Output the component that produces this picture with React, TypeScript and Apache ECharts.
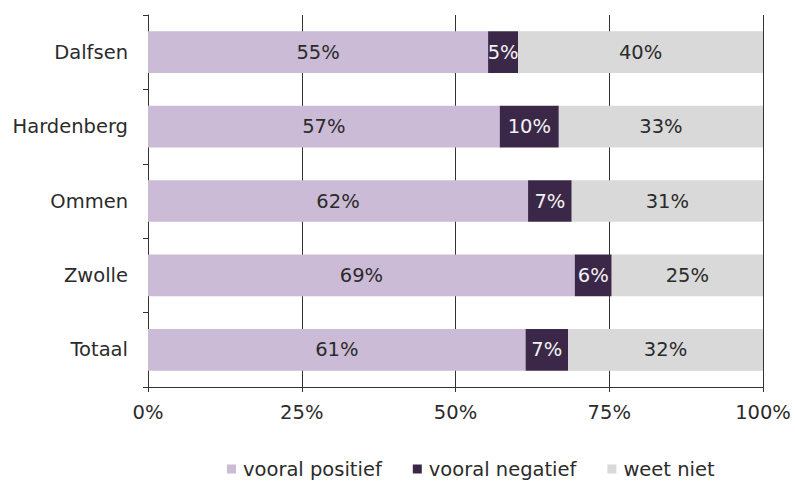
import React, { useEffect, useRef } from "react";
import * as echarts from "echarts";

const categories = ["Dalfsen", "Hardenberg", "Ommen", "Zwolle", "Totaal"];
const voorPositief = [55.3, 57.2, 61.8, 69.4, 61.4];
const voorNegatief = [4.9, 9.6, 7.1, 6.0, 6.9];
const weetNiet = [39.8, 33.2, 31.1, 24.6, 31.7];
const seriesNames = ["vooral positief", "vooral negatief", "weet niet"];
const xTicks = [0, 25, 50, 75, 100];

const FONT = "DejaVu Sans";
const TEXT = "#2b2b2b";

export default function App() {
  const ref = useRef<HTMLDivElement>(null);
  useEffect(() => {
    if (!ref.current) return;
    const chart = echarts.init(ref.current, null, { renderer: "svg" });
    const label = (color: string) => ({
      show: true,
      position: "inside" as const,
      color,
      fontFamily: FONT,
      fontSize: 19.5,
      formatter: (p: any) => Math.round(p.value) + "%",
    });
    const colors = ["#CBBBD6", "#3B2848", "#D9D9D9"];
    const datas = [voorPositief, voorNegatief, weetNiet];
    chart.setOption({
      animation: false,
      grid: { left: 148, right: 32, top: 15, bottom: 94, containLabel: false },
      legend: {
        left: 222,
        top: 459,
        padding: [0, 5, 0, 5],
        itemWidth: 9,
        itemHeight: 9,
        itemGap: 31,
        icon: "rect",
        textStyle: { fontFamily: FONT, fontSize: 19.5, color: TEXT, padding: [0, 0, 0, 2] },
        data: seriesNames,
      },
      xAxis: {
        type: "value",
        min: 0,
        max: 100,
        interval: 25,
        axisLine: { show: true, lineStyle: { color: "#333", width: 1 } },
        axisTick: { show: true, length: 5, lineStyle: { color: "#333" } },
        splitLine: { show: true, lineStyle: { color: "#333", width: 1 } },
        axisLabel: {
          fontFamily: FONT,
          fontSize: 19.5,
          color: TEXT,
          margin: 15,
          formatter: (v: number) => (xTicks.includes(v) ? v + "%" : ""),
        },
      },
      yAxis: {
        type: "category",
        inverse: true,
        data: categories,
        axisLine: { show: true, lineStyle: { color: "#333", width: 1 } },
        axisTick: { show: true, length: 5, lineStyle: { color: "#333" } },
        axisLabel: { fontFamily: FONT, fontSize: 19.5, color: TEXT, margin: 20 },
      },
      series: seriesNames.map((name, i) => ({
        name,
        type: "bar",
        stack: "total",
        barWidth: "56%",
        itemStyle: { color: colors[i] },
        label: label(i === 1 ? "#F2F2F2" : TEXT),
        data: datas[i],
      })),
    });
    return () => chart.dispose();
  }, []);
  return <div ref={ref} style={{ width: 795, height: 481, position: "absolute", left: 0, top: 0 }} />;
}
